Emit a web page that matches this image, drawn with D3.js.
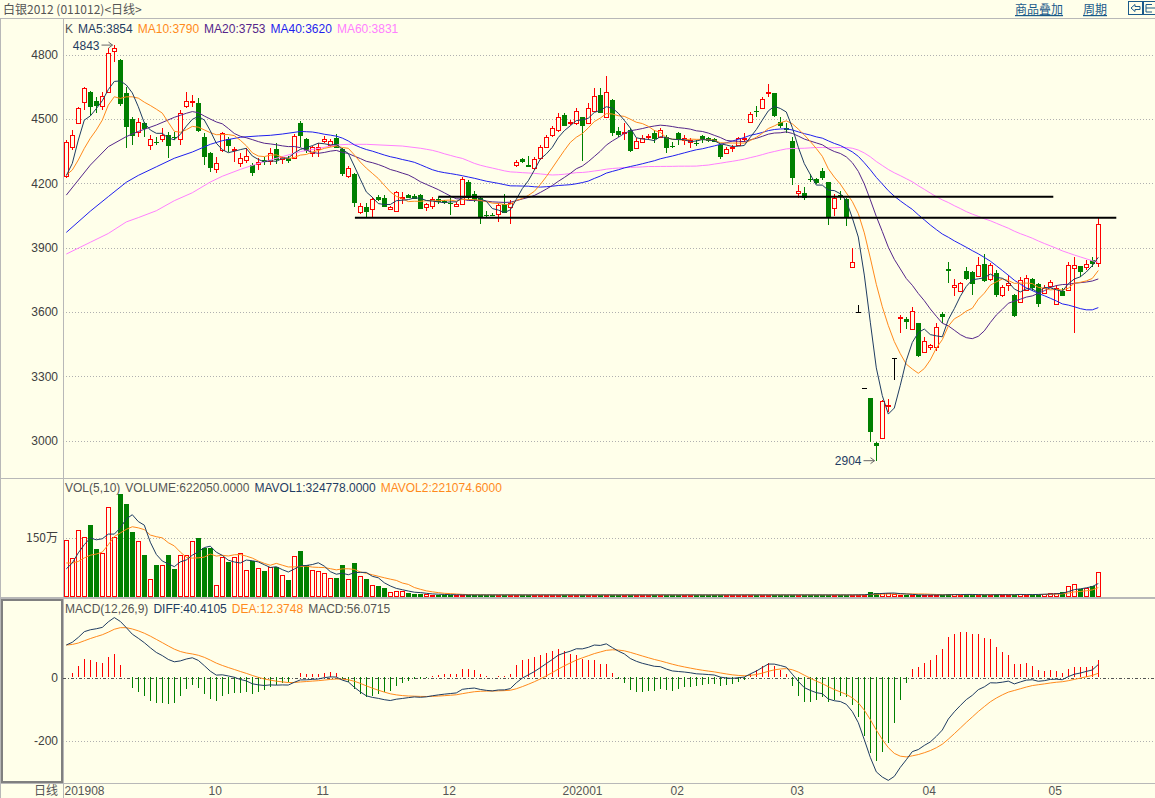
<!DOCTYPE html>
<html>
<head>
<meta charset="utf-8">
<title>白银2012 日线</title>
<script src="https://cdn.jsdelivr.net/npm/d3@7"></script>
<style>
  body { margin: 0; background: #ffffea; }
  svg { display: block; }
  text { font-family: "Liberation Sans", Arial, sans-serif; font-size: 12px; }
  .cjk { font-family: "Noto Sans CJK SC", "Liberation Sans", sans-serif; }
</style>
</head>
<body>
<svg class="canvas" width="1155" height="798"></svg>
<script>
// daily bars (one per trading day)
const opens = [
  4233,4369,4481,4579,4626,4583,4559,4626,4817,4773,
  4618,4496,4439,4478,4377,4392,4403,4423,4416,4403,
  4559,4576,4571,4416,4338,4263,4353,4403,4352,4294,
  4306,4283,4288,4307,4304,4357,4313,4314,4314,4478,
  4403,4341,4358,4397,4377,4408,4356,4232,4240,4062,
  4086,4076,4132,4128,4079,4069,4128,4142,4139,4143,
  4089,4092,4123,4115,4106,4093,4100,4206,4148,4128,
  4052,4051,4053,4101,4089,4283,4310,4282,4268,4315,
  4369,4422,4447,4517,4478,4478,4509,4478,4537,4610,
  4509,4587,4443,4431,4447,4361,4392,4413,4431,4416,
  4416,4374,4431,4400,4392,4385,4419,4408,4403,4377,
  4338,4367,4377,4405,4482,4537,4551,4621,4618,4486,
  4455,4395,4151,4151,4218,4218,4255,4202,4084,4144,
  4125,3809,3596,3241,3198,2985,3011,3162,3382,3571,
  3565,3517,3545,3409,3436,3433,3587,3797,3713,3697,
  3789,3786,3765,3821,3750,3778,3677,3723,3677,3646,
  3700,3750,3728,3688,3719,3635,3697,3700,3801,3812,
  3809,3840,3825
];
const highs = [
  4398,4447,4552,4649,4630,4602,4626,4828,4843,4776,
  4649,4509,4501,4485,4423,4415,4454,4439,4439,4540,
  4626,4610,4594,4431,4346,4322,4439,4415,4369,4338,
  4361,4291,4314,4322,4361,4388,4325,4325,4428,4489,
  4408,4372,4388,4419,4403,4427,4364,4279,4245,4104,
  4104,4136,4144,4143,4094,4161,4159,4150,4148,4148,
  4108,4133,4133,4122,4128,4109,4229,4213,4160,4136,
  4070,4060,4108,4148,4120,4307,4315,4325,4319,4377,
  4423,4465,4527,4525,4493,4548,4509,4571,4641,4641,
  4699,4590,4462,4478,4455,4408,4423,4427,4447,4455,
  4423,4392,4439,4423,4408,4398,4423,4416,4411,4380,
  4369,4377,4416,4431,4532,4560,4602,4660,4618,4509,
  4478,4416,4190,4182,4240,4221,4271,4206,4146,4160,
  4128,3894,3630,3241,3198,2992,3187,3194,3382,3583,
  3576,3622,3548,3482,3450,3545,3599,3832,3750,3739,
  3809,3789,3856,3868,3825,3793,3723,3770,3681,3762,
  3770,3755,3731,3723,3747,3723,3708,3832,3856,3812,
  3840,3856,4035
];
const lows = [
  4221,4353,4478,4540,4510,4524,4540,4618,4766,4560,
  4361,4377,4415,4415,4353,4377,4392,4314,4400,4377,
  4548,4555,4439,4283,4252,4248,4346,4346,4299,4276,
  4294,4232,4260,4283,4283,4288,4288,4291,4311,4366,
  4341,4322,4322,4385,4369,4361,4232,4221,4086,4055,
  4042,4042,4117,4089,4075,4066,4101,4130,4125,4081,
  4069,4080,4101,4100,4050,4089,4097,4120,4112,4008,
  4042,4044,4019,4058,4008,4276,4291,4273,4260,4307,
  4361,4416,4439,4465,4470,4470,4304,4475,4532,4528,
  4501,4419,4416,4400,4346,4356,4385,4400,4385,4408,
  4338,4361,4377,4377,4364,4373,4384,4392,4392,4311,
  4335,4346,4374,4392,4478,4509,4548,4602,4509,4455,
  4431,4190,4128,4120,4202,4193,4213,4003,4047,4120,
  4000,3809,3596,3241,2992,2904,3008,3132,3281,3498,
  3517,3513,3386,3405,3420,3417,3548,3734,3672,3692,
  3747,3677,3759,3739,3744,3666,3669,3697,3576,3641,
  3697,3697,3619,3681,3708,3630,3672,3696,3498,3762,
  3793,3809,3809
];
const closes = [
  4392,4422,4548,4641,4559,4562,4607,4808,4831,4571,
  4467,4423,4485,4454,4405,4390,4422,4377,4412,4528,
  4583,4582,4447,4327,4276,4294,4431,4377,4360,4314,
  4325,4252,4297,4302,4341,4310,4322,4307,4419,4423,
  4353,4366,4366,4405,4397,4366,4248,4271,4112,4090,
  4069,4123,4123,4092,4089,4157,4136,4136,4130,4084,
  4103,4123,4117,4111,4104,4103,4220,4133,4123,4047,
  4049,4050,4097,4066,4108,4296,4300,4280,4311,4369,
  4416,4454,4509,4470,4484,4537,4470,4548,4605,4532,
  4622,4439,4428,4439,4353,4395,4408,4419,4411,4447,
  4369,4372,4411,4411,4400,4384,4405,4400,4395,4327,
  4358,4369,4408,4411,4520,4535,4591,4623,4517,4470,
  4453,4229,4162,4136,4216,4206,4229,4042,4128,4142,
  4042,3829,3596,3241,3042,2977,3182,3165,3382,3573,
  3555,3602,3397,3464,3443,3526,3580,3795,3722,3731,
  3758,3734,3817,3747,3817,3681,3713,3731,3583,3747,
  3755,3713,3638,3708,3739,3708,3677,3817,3817,3790,
  3820,3828,4008
];
// volume in 万手
const volumes = [
  144,97,168,150,182,121,110,228,150,262,
  236,164,140,104,43,79,79,104,68,104,
  104,140,148,122,122,27,99,86,99,109,
  65,90,71,63,73,75,53,40,101,116,
  78,65,63,58,45,45,78,43,84,50,
  44,28,24,20,9,13,11,7,5,4,
  4,3,3,2,2,2,2,2,2,2,
  2,2,2,2,2,2,2,2,2,2,
  2,2,2,2,2,2,2,2,2,2,
  2,2,2,2,2,2,2,2,2,2,
  2,2,2,2,2,2,2,2,2,2,
  2,2,2,2,2,2,2,2,2,2,
  2,2,2,2,2,2,2,2,2,2,
  2,2,3,3,9,7,7,7,4,2,
  2,2,2,2,2,2,2,4,4,2,
  4,2,2,2,2,5,2,2,2,5,
  3,3,3,5,7,7,9,24,31,17,
  20,26,62
];

// averages at the left edge need days before the window, so read them off the chart
const ma5Head = [[0,4234],[1,4291],[2,4400],[3,4493]];
const ma10Head = [[0,4237],[1,4260],[2,4307],[3,4361],[4,4408],[5,4447],[6,4493],[7,4563],[8,4602]];
const ma20Head = [[0,4143],[4,4283],[7,4369],[10,4416],[12,4440],[15,4470],[18,4506]];
const ma40Head = [[0,3969],[4,4068],[7,4136],[10,4203],[12,4235],[15,4275],[18,4315],[21,4344],
  [24,4380],[26,4397],[29,4413],[32,4419],[34,4422],[36,4428]];
const ma60Head = [[0,3868],[4,3923],[7,3964],[10,4018],[12,4038],[15,4070],[18,4117],[21,4154],
  [24,4204],[26,4231],[29,4263],[32,4291],[34,4307],[39,4346],[42,4361],[45,4377],[47,4380],
  [50,4380],[56,4372]];
const mavol1Head = [[0,69],[1,84],[2,110],[3,131]];
const mavol2Head = [[0,84],[1,84],[2,88],[3,97],[4,104],[5,107],[6,112],[7,131],[8,152]];
const macdStart = { ema12: 4217, ema26: 4114, dea: 103 };

// drawn support lines: [price, from day, to day]
const hLines = [[4135, 62, 164.5], [4037, 48.1, 175]];

const priceTicks = [3000, 3300, 3600, 3900, 4200, 4500, 4800];
const volTicks = [150];
const macdTicks = [0, -200];
const monthLabels = ["201908", "10", "11", "12", "202001", "02", "03", "04", "05"];
const monthIdx = [0, 24, 42, 63, 83, 101, 121, 143, 164];

const priceLegend = ["K", "MA5:3854", "MA10:3790", "MA20:3753", "MA40:3620", "MA60:3831"];
const volLegend = ["VOL(5,10)", "VOLUME:622050.0000", "MAVOL1:324778.0000", "MAVOL2:221074.6000"];
const macdLegend = ["MACD(12,26,9)", "DIFF:40.4105", "DEA:12.3748", "MACD:56.0715"];

// ---- colours ----
const bg = "#ffffea";
const upCol = "#ff0000";
const downCol = "#008000";
const navy = "#1f3c62";
const orange = "#ff8a1c";
const purple = "#55268a";
const blue = "#1f1fee";
const pink = "#ff80ff";
const gridCol = "#b0b0b0";
const labelCol = "#404040";

const svg = d3.select(".canvas");
const W = 1155;
const left = 63;

// ---- indicators ----
const withHead = (vals, n, head) => {
  const out = head.slice();
  for (let i = n - 1; i < vals.length; i++) {
    out.push([i, d3.mean(vals.slice(i - n + 1, i + 1))]);
  }
  return out;
};
const ma5 = withHead(closes, 5, ma5Head);
const ma10 = withHead(closes, 10, ma10Head);
const ma20 = withHead(closes, 20, ma20Head);
const ma40 = withHead(closes, 40, ma40Head);
const ma60 = withHead(closes, 60, ma60Head);
const mavol1 = withHead(volumes, 5, mavol1Head);
const mavol2 = withHead(volumes, 10, mavol2Head);

let e12 = macdStart.ema12;
let e26 = macdStart.ema26;
let dea = macdStart.dea;
const macd = closes.map((c, i) => {
  if (i > 0) {
    e12 += (2 / 13) * (c - e12);
    e26 += (2 / 27) * (c - e26);
  }
  const diff = e12 - e26;
  if (i > 0) dea += 0.2 * (diff - dea);
  return { i, diff, dea, bar: 2 * (diff - dea) };
});

// ---- scales ----
const x = d3.scaleLinear().domain([0, closes.length - 1]).range([66.3, 1098.3]);
const cx = (i) => Math.round(x(i)) + 0.5;
const yPrice = d3.scaleLinear().domain([3000, 4800]).range([440.1, 54.3]);
const yVol = d3.scaleLinear().domain([0, 150]).range([595.7, 537.3]);
const yMacd = d3.scaleLinear().domain([-200, 0]).range([740, 677.3]);

// ---- frame ----
svg.append("rect").attr("width", W).attr("height", 798).attr("fill", bg);
const frame = svg.append("g").attr("stroke", "#b8b8b8").attr("shape-rendering", "crispEdges");
frame.append("line").attr("x1", 0).attr("x2", W).attr("y1", 18.5).attr("y2", 18.5);
frame.append("line").attr("x1", 0).attr("x2", W).attr("y1", 478.5).attr("y2", 478.5);
frame.append("line").attr("x1", 0).attr("x2", W).attr("y1", 598).attr("y2", 598).attr("stroke-width", 2);
frame.append("line").attr("x1", 0).attr("x2", W).attr("y1", 783.5).attr("y2", 783.5);
frame.append("line").attr("x1", left + 0.5).attr("x2", left + 0.5).attr("y1", 19).attr("y2", 798);
frame.append("line").attr("x1", 0.5).attr("x2", 0.5).attr("y1", 19).attr("y2", 798);
svg.append("rect")
  .attr("x", 2).attr("y", 600).attr("width", 60).attr("height", 182)
  .attr("fill", "none").attr("stroke", "#808080").attr("stroke-width", 2);

// clip regions per panel
const defs = svg.append("defs");
const clip = (id, y0, y1) => {
  defs.append("clipPath").attr("id", id)
    .append("rect").attr("x", left + 1).attr("y", y0).attr("width", W - left).attr("height", y1 - y0);
  return `url(#${id})`;
};
const priceClip = clip("cp", 19, 478);
const volClip = clip("cv", 479, 597);
const macdClip = clip("cm", 599, 783);

// ---- header ----
svg.append("text").attr("class", "cjk").attr("x", 3).attr("y", 14)
  .attr("fill", "#555").text("白银2012 (011012)<日线>");
[["商品叠加", 1015], ["周期", 1083]].forEach(([t, xx]) => {
  svg.append("text").attr("class", "cjk").attr("x", xx).attr("y", 14)
    .attr("fill", "#1a5a8a").attr("text-decoration", "underline").text(t);
});
const icons = svg.append("g").attr("stroke", "#1a5a8a").attr("fill", "none");
icons.append("rect").attr("x", 1128.5).attr("y", 1.5).attr("width", 14).attr("height", 13);
icons.append("rect").attr("x", 1143.5).attr("y", 1.5).attr("width", 14).attr("height", 13);
icons.append("path").attr("d", "M1131,8 L1135,4.5 L1135,6.5 L1140,6.5 L1140,9.5 L1135,9.5 L1135,11.5 Z");
icons.append("path").attr("d", "M1146,4.5 L1152,4.5 M1146,4.5 L1146,12 L1152,12 M1146,8 L1155,8");

// ---- axes with grid ----
const axisStyle = (g) => {
  g.attr("font-size", null).attr("font-family", null);
  g.select(".domain").remove();
  g.selectAll(".tick line")
    .attr("stroke", gridCol).attr("stroke-dasharray", "1,2").attr("shape-rendering", "crispEdges");
  g.selectAll(".tick text").attr("fill", labelCol);
};
svg.append("g")
  .attr("transform", `translate(${left},0.5)`)
  .call(d3.axisLeft(yPrice).tickValues(priceTicks).tickSize(-(W - left)).tickPadding(5)
    .tickFormat((d) => String(d)))
  .call(axisStyle);
svg.append("g")
  .attr("transform", `translate(${left},0.5)`)
  .call(d3.axisLeft(yVol).tickValues(volTicks).tickSize(-(W - left)).tickPadding(5)
    .tickFormat((d) => d + "万"))
  .call(axisStyle)
  .selectAll("text").attr("class", "cjk");
svg.append("g")
  .attr("transform", `translate(${left},0.5)`)
  .call(d3.axisLeft(yMacd).tickValues(macdTicks).tickSize(-(W - left)).tickPadding(5)
    .tickFormat((d) => String(d)))
  .call(axisStyle)
  .selectAll(".tick line")
  .filter((d) => d === 0)
  .attr("stroke", "#555").attr("stroke-dasharray", "3,2,1,2");

// month labels under the macd panel
svg.append("text").attr("class", "cjk").attr("x", 58).attr("y", 795)
  .attr("text-anchor", "end").attr("fill", "#555").text("日线");
svg.append("g").selectAll("text")
  .data(monthLabels)
  .join("text")
  .attr("x", (d, k) => cx(monthIdx[k]) - 2)
  .attr("y", 795)
  .attr("fill", "#555")
  .text((d) => d);

// ---- legends ----
const legend = (items, colors, y) => {
  let pos = 65;
  items.forEach((t, k) => {
    const node = svg.append("text").attr("x", pos).attr("y", y).attr("fill", colors[k]).text(t);
    pos += node.node().getComputedTextLength() + 5;
  });
};
legend(priceLegend, ["#555", navy, orange, purple, blue, pink], 33);
legend(volLegend, ["#555", "#555", navy, orange], 492);
legend(macdLegend, ["#555", navy, orange, "#555"], 613);

// ---- candles ----
const bars = closes.map((c, i) => ({ i, o: opens[i], h: highs[i], l: lows[i], c, v: volumes[i] }));
const colorOf = (d) => (d.o === d.c ? "#000" : d.c > d.o ? upCol : downCol);
const pricePlot = svg.append("g").attr("clip-path", priceClip).attr("shape-rendering", "crispEdges");

bars.forEach((d) => {
  const col = colorOf(d);
  const xc = cx(d.i);
  const top = Math.round(yPrice(Math.max(d.o, d.c)));
  const bot = Math.round(yPrice(Math.min(d.o, d.c)));
  const yh = Math.round(yPrice(d.h));
  const yl = Math.round(yPrice(d.l));
  if (d.c > d.o) {
    // hollow up candle: wick stops at the body
    pricePlot.append("line").attr("x1", xc).attr("x2", xc).attr("y1", yh).attr("y2", top).attr("stroke", col);
    pricePlot.append("line").attr("x1", xc).attr("x2", xc).attr("y1", bot).attr("y2", yl).attr("stroke", col);
    pricePlot.append("rect")
      .attr("x", xc - 2).attr("y", top + 0.5).attr("width", 4).attr("height", Math.max(1, bot - top))
      .attr("fill", bg).attr("stroke", col);
  } else {
    pricePlot.append("line").attr("x1", xc).attr("x2", xc).attr("y1", yh).attr("y2", yl).attr("stroke", col);
    if (d.o === d.c) {
      pricePlot.append("line").attr("x1", xc - 2.5).attr("x2", xc + 2.5)
        .attr("y1", top + 0.5).attr("y2", top + 0.5).attr("stroke", col);
    } else {
      pricePlot.append("rect")
        .attr("x", xc - 2.5).attr("y", top).attr("width", 5).attr("height", Math.max(1, bot - top + 1))
        .attr("fill", col);
    }
  }
});

// moving averages
const priceLine = d3.line().x((d) => x(d[0])).y((d) => yPrice(d[1]));
const maPlot = svg.append("g").attr("clip-path", priceClip).attr("fill", "none").attr("stroke-width", 1);
[[ma60, pink], [ma40, blue], [ma20, purple], [ma10, orange], [ma5, navy]].forEach(([pts, col]) => {
  maPlot.append("path").attr("d", priceLine(pts)).attr("stroke", col);
});

// drawn horizontal lines
svg.append("g").selectAll("line")
  .data(hLines)
  .join("line")
  .attr("x1", (d) => x(d[1]))
  .attr("x2", (d) => Math.min(W, x(d[2])))
  .attr("y1", (d) => yPrice(d[0]))
  .attr("y2", (d) => yPrice(d[0]))
  .attr("stroke", "#000")
  .attr("stroke-width", 2);

// extreme price marks
const hiIdx = d3.maxIndex(highs);
const loIdx = d3.minIndex(lows);
const mark = (i, v) => {
  const xe = cx(i) - 2;
  const ym = yPrice(v);
  svg.append("text").attr("x", xe - 13).attr("y", ym + 4.5)
    .attr("text-anchor", "end").attr("fill", navy).text(v);
  svg.append("path")
    .attr("d", `M${xe - 11},${ym} L${xe},${ym} M${xe - 4},${ym - 3} L${xe},${ym} L${xe - 4},${ym + 3}`)
    .attr("stroke", "#666").attr("fill", "none");
};
mark(hiIdx, highs[hiIdx]);
mark(loIdx, lows[loIdx]);

// ---- volume ----
const volPlot = svg.append("g").attr("clip-path", volClip).attr("shape-rendering", "crispEdges");
const base = Math.round(yVol(0));
bars.forEach((d) => {
  const xc = cx(d.i);
  const top = Math.round(yVol(d.v));
  const up = d.c >= d.o;
  if (up) {
    volPlot.append("rect")
      .attr("x", xc - 2).attr("y", top + 0.5).attr("width", 4).attr("height", Math.max(0.5, base - top))
      .attr("fill", bg).attr("stroke", upCol);
  } else {
    volPlot.append("rect")
      .attr("x", xc - 2.5).attr("y", top).attr("width", 5).attr("height", Math.max(1, base - top + 1))
      .attr("fill", downCol);
  }
});
const volLine = d3.line().x((d) => x(d[0])).y((d) => yVol(d[1]));
const volMa = svg.append("g").attr("clip-path", volClip).attr("fill", "none");
volMa.append("path").attr("d", volLine(mavol2)).attr("stroke", orange);
volMa.append("path").attr("d", volLine(mavol1)).attr("stroke", navy);

// ---- macd ----
const macdPlot = svg.append("g").attr("clip-path", macdClip);
macdPlot.append("g").attr("shape-rendering", "crispEdges")
  .selectAll("line")
  .data(macd)
  .join("line")
  .attr("x1", (d) => cx(d.i))
  .attr("x2", (d) => cx(d.i))
  .attr("y1", yMacd(0))
  .attr("y2", (d) => yMacd(d.bar))
  .attr("stroke", (d) => (d.bar >= 0 ? upCol : downCol))
  .attr("stroke-width", 1.4);
macdPlot.append("path")
  .attr("d", d3.line().x((d) => x(d.i)).y((d) => yMacd(d.dea))(macd))
  .attr("fill", "none").attr("stroke", orange);
macdPlot.append("path")
  .attr("d", d3.line().x((d) => x(d.i)).y((d) => yMacd(d.diff))(macd))
  .attr("fill", "none").attr("stroke", navy);
</script>
</body>
</html>
